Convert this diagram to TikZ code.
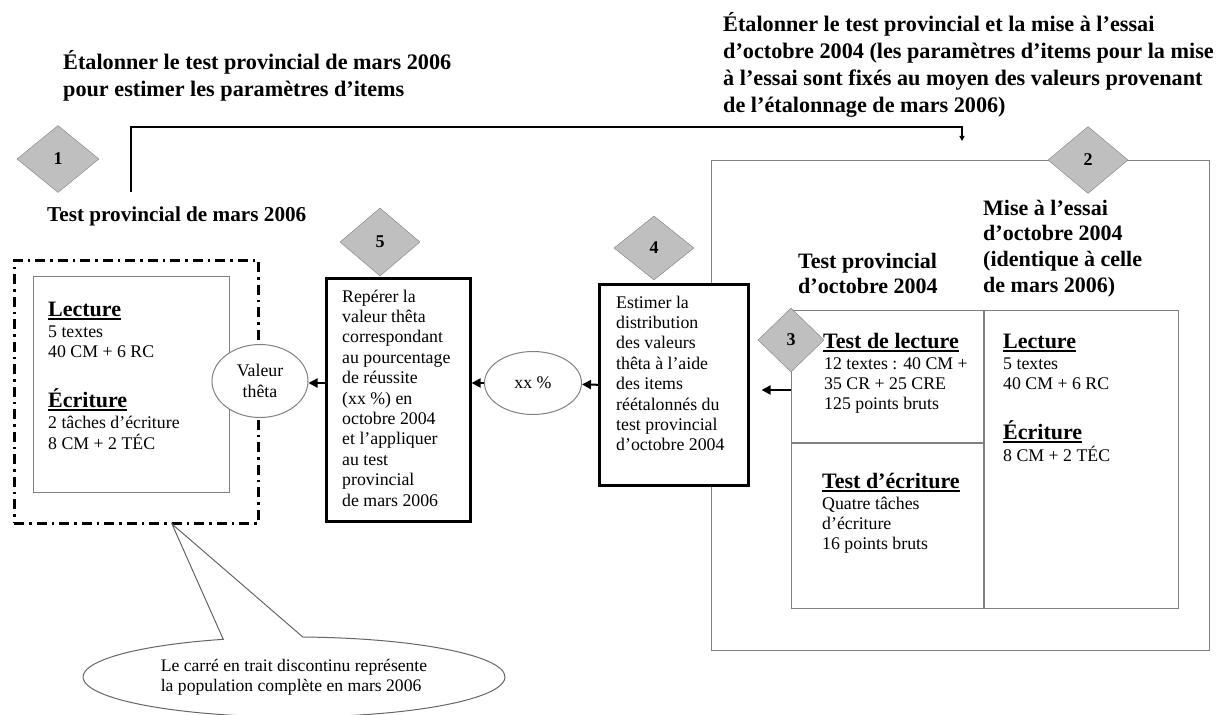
\documentclass[tikz,border=0pt]{standalone}
\usepackage{fontspec}
\setmainfont{Liberation Serif}
\usetikzlibrary{shapes.geometric,shapes.callouts,arrows.meta}

\newcommand{\titlefont}{\fontsize{22.2}{26.8}\selectfont\bfseries}
\newcommand{\headfont}{\fontsize{22}{25.8}\selectfont\bfseries}
\newcommand{\labfont}{\fontsize{21.2}{25.8}\selectfont\bfseries}
\newcommand{\bodyfont}{\fontsize{17.8}{20.4}\selectfont}
\newcommand{\notefont}{\fontsize{17.6}{20}\selectfont}
\newcommand{\stack}[1]{\begin{tabular}[t]{@{}l@{}}#1\end{tabular}}
\newcommand{\ulhead}[1]{\setbox0\hbox{#1}\rlap{\rule[-3.5pt]{\wd0}{1.6pt}}\box0}

\tikzset{
  numbox/.style={diamond, draw=gray, fill=gray!50, inner sep=0pt,
    font=\fontsize{18}{20}\selectfont\bfseries},
  graybox/.style={draw=gray, line width=1.1pt},
  stepbox/.style={draw, line width=2.6pt, fill=white},
  oval/.style={ellipse, draw=gray, line width=1pt, fill=white, inner sep=0pt,
    align=center, font=\bodyfont},
  arr/.style={line width=2pt, -{Triangle[length=9pt,width=9pt]}},
  head/.style={anchor=base west, inner sep=0pt, font=\headfont},
  body/.style={anchor=base west, inner sep=0pt, font=\bodyfont},
}

\begin{document}
\begin{tikzpicture}[x=1pt, y=-1pt]
  \fill[white] (0,0) rectangle (1230,714);
  \useasboundingbox (0,0) rectangle (1230,714);

  % titles
  \node[anchor=base west, inner sep=0pt, font=\titlefont] (ttl1) at (63,70)
    {\stack{Étalonner le test provincial de mars 2006\\pour estimer les paramètres d’items}};
  \node[anchor=base west, inner sep=0pt, font=\titlefont] (ttl2) at (723,32)
    {\stack{Étalonner le test provincial et la mise à l’essai\\d’octobre 2004 (les paramètres d’items pour la mise\\à l’essai sont fixés au moyen des valeurs provenant\\de l’étalonnage de mars 2006)}};

  % step 1: march 2006
  \node[head, font=\labfont] (lab1) at (47,221) {Test provincial de mars 2006};
  \node[draw, line width=2.6pt, dash pattern=on 10pt off 5pt on 2.5pt off 5pt,
    anchor=north west, minimum width=244pt, minimum height=263pt] (pop) at (13,259) {};
  \node[graybox, anchor=north west, minimum width=196pt, minimum height=216pt] (mar) at (33,276) {};
  \node[head] (mlect) at (48,316) {\ulhead{Lecture}};
  \node[body] (mlect2) at (48,337) {\stack{5 textes\\40 CM + 6 RC}};
  \node[head] (mecr) at (48,407) {\ulhead{Écriture}};
  \node[body] (mecr2) at (48,428) {\stack{2 tâches d’écriture\\8 CM + 2 TÉC}};

  % step 2: october 2004
  \node[graybox, anchor=north west, minimum width=498pt, minimum height=490pt] (oct) at (711,160) {};
  \node[head] (lab3) at (798,268) {\stack{Test provincial\\d’octobre 2004}};
  \node[head] (lab2) at (983,215) {\stack{Mise à l’essai\\d’octobre 2004\\(identique à celle\\de mars 2006)}};
  \node[graybox, anchor=north west, minimum width=387pt, minimum height=298pt] (grid) at (791,310) {};
  \coordinate (gmid) at (984,310);
  \coordinate (gsplit) at (791,443);
  \draw[graybox] (gmid) -- (gmid |- grid.south);
  \draw[graybox] (gsplit) -- (gsplit -| gmid);
  \node[head] (tlect) at (823,348) {\ulhead{Test de lecture}};
  \node[body] (tlect2) at (824,369) {\stack{12 textes : 40 CM +\\35 CR + 25 CRE\\125 points bruts}};
  \node[head] (tecr) at (822,488) {\ulhead{Test d’écriture}};
  \node[body] (tecr2) at (822,509) {\stack{Quatre tâches\\d’écriture\\16 points bruts}};
  \node[head] (elect) at (1003,348) {\ulhead{Lecture}};
  \node[body] (elect2) at (1003,369) {\stack{5 textes\\40 CM + 6 RC}};
  \node[head] (eecr) at (1003,439) {\ulhead{Écriture}};
  \node[body] (eecr2) at (1003,461) {8 CM + 2 TÉC};

  % steps 4 and 5
  \node[stepbox, anchor=north west, minimum width=149pt, minimum height=201pt] (box4) at (598,283) {};
  \node[body] (t4) at (616,308)
    {\stack{Estimer la\\distribution\\des valeurs\\thêta à l’aide\\des items\\réétalonnés du\\test provincial\\d’octobre 2004}};
  \node[stepbox, anchor=north west, minimum width=144pt, minimum height=243pt] (box5) at (325,277) {};
  \node[body] (t5) at (342,302)
    {\stack{Repérer la\\valeur thêta\\correspondant\\au pourcentage\\de réussite\\(xx \%) en\\octobre 2004\\et l’appliquer\\au test\\provincial\\de mars 2006}};
  \node[oval, minimum width=97pt, minimum height=63pt] (pct) at (533,383) {xx \%};
  \node[oval, minimum width=96pt, minimum height=73pt] (theta) at (260,381) {Valeur\\thêta};

  % numbers
  \node[numbox, minimum width=82pt, minimum height=67pt] (n1) at (58,159) {1};
  \node[numbox, minimum width=80pt, minimum height=67pt] (n2) at (1088,160) {2};
  \node[numbox, minimum width=66pt, minimum height=64pt] (n3) at (791,340) {3};
  \node[numbox, minimum width=80pt, minimum height=64pt] (n4) at (654,248) {4};
  \node[numbox, minimum width=80pt, minimum height=68pt] (n5) at (380,242) {5};

  % connectors
  \coordinate (up1) at (131,192);
  \coordinate (bend) at (131,127);
  \coordinate (down2) at (962,141);
  \draw[line width=1.5pt, -{Triangle[length=5pt,width=5pt]}] (up1) -- (bend) -| (down2);
  \coordinate (g3) at (791,390);
  \draw[arr, shorten >=12pt] (g3) -- (g3 -| box4.east);
  \draw[arr] (box4.west) -- (pct);
  \draw[arr] (pct) -- (box5.east |- pct);
  \draw[arr] (box5.west |- pct) -- (theta.east |- pct);

  % note
  \coordinate (tip) at (172,524);
  \node[ellipse callout, draw=gray!80!black, line width=1pt, callout absolute pointer={(tip)},
    callout pointer arc=22, minimum width=422pt, minimum height=80pt, inner sep=0pt,
    align=left, font=\notefont] (note) at (294,677)
    {Le carré en trait discontinu représente\\la population complète en mars 2006};
\end{tikzpicture}
\end{document}
